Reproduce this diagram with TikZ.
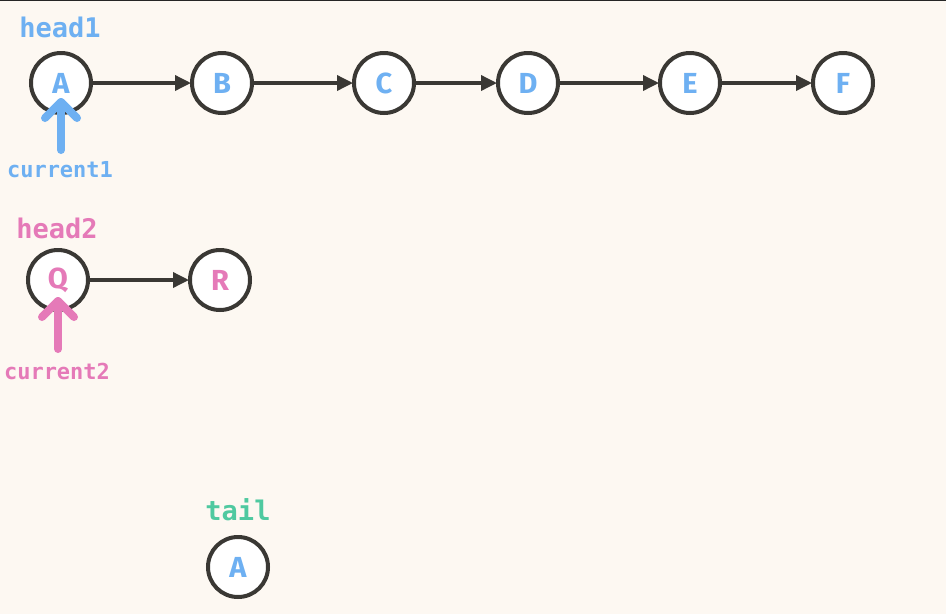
\documentclass[tikz,border=0pt]{standalone}
\usepackage{fontspec}
\setmainfont{Fira Sans}
\newfontfamily\monof{DejaVu Sans Mono}
\usetikzlibrary{arrows.meta,calc}
\definecolor{bg}{HTML}{FDF8F2}
\definecolor{ink}{HTML}{3A3834}
\definecolor{lblue}{HTML}{6EB0F2}
\definecolor{lpink}{HTML}{E57AB8}
\definecolor{lgreen}{HTML}{4FC9A0}
\tikzset{
  lnode/.style={circle, draw=ink, line width=4pt, fill=white, minimum size=60pt, inner sep=0pt,
    font=\fontsize{29}{29}\selectfont\bfseries},
  link/.style={draw=ink, line width=3.5pt, -{Triangle[length=16pt,width=15pt]}, shorten >=-1pt},
  lbl/.style={font=\monof\bfseries\fontsize{27}{27}\selectfont, inner sep=0pt},
  clbl/.style={font=\monof\bfseries\fontsize{22}{22}\selectfont, inner sep=0pt},
  ptr/.style={line width=8pt, line cap=round, line join=round},
}
\begin{document}
\begin{tikzpicture}[x=1pt,y=-1pt]
\fill[bg] (0,0) rectangle (946,614);
\useasboundingbox (0,0) rectangle (946,614);
\draw[black!85, line width=2pt] (0,0) -- (946,0);
% list 1
\node[lnode, text=lblue] (A) at (61,83) {A};
\node[lnode, text=lblue] (B) at (222,83) {B};
\node[lnode, text=lblue] (C) at (384,83) {C};
\node[lnode, text=lblue] (D) at (528,83) {D};
\node[lnode, text=lblue] (E) at (690,83) {E};
\node[lnode, text=lblue] (F) at (843,83) {F};
\draw[link] (A) -- (B);
\draw[link] (B) -- (C);
\draw[link] (C) -- (D);
\draw[link] (D) -- (E);
\draw[link] (E) -- (F);
\node[lbl, text=lblue] (h1) at (60,27) {head1};
\node[clbl, text=lblue] (c1) at (60,170) {current1};
\coordinate (c1tip) at (61,102);
\coordinate (c1base) at (61,150);
\draw[ptr, lblue] (c1base) -- (c1tip);
\draw[ptr, lblue] ($(c1tip)+(-16,16)$) -- (c1tip) -- ($(c1tip)+(16,16)$);
% list 2
\node[lnode, text=lpink] (Q) at (58,280) {Q};
\node[lnode, text=lpink] (R) at (220,280) {R};
\draw[link] (Q) -- (R);
\node[lbl, text=lpink] (h2) at (57,228) {head2};
\node[clbl, text=lpink] (c2) at (57,371) {current2};
\coordinate (c2tip) at (58,301);
\coordinate (c2base) at (58,349);
\draw[ptr, lpink] (c2base) -- (c2tip);
\draw[ptr, lpink] ($(c2tip)+(-16,16)$) -- (c2tip) -- ($(c2tip)+(16,16)$);
% tail
\node[lnode, text=lblue] (T) at (238,567) {A};
\node[lbl, text=lgreen] (tl) at (238,510) {tail};
\end{tikzpicture}
\end{document}
